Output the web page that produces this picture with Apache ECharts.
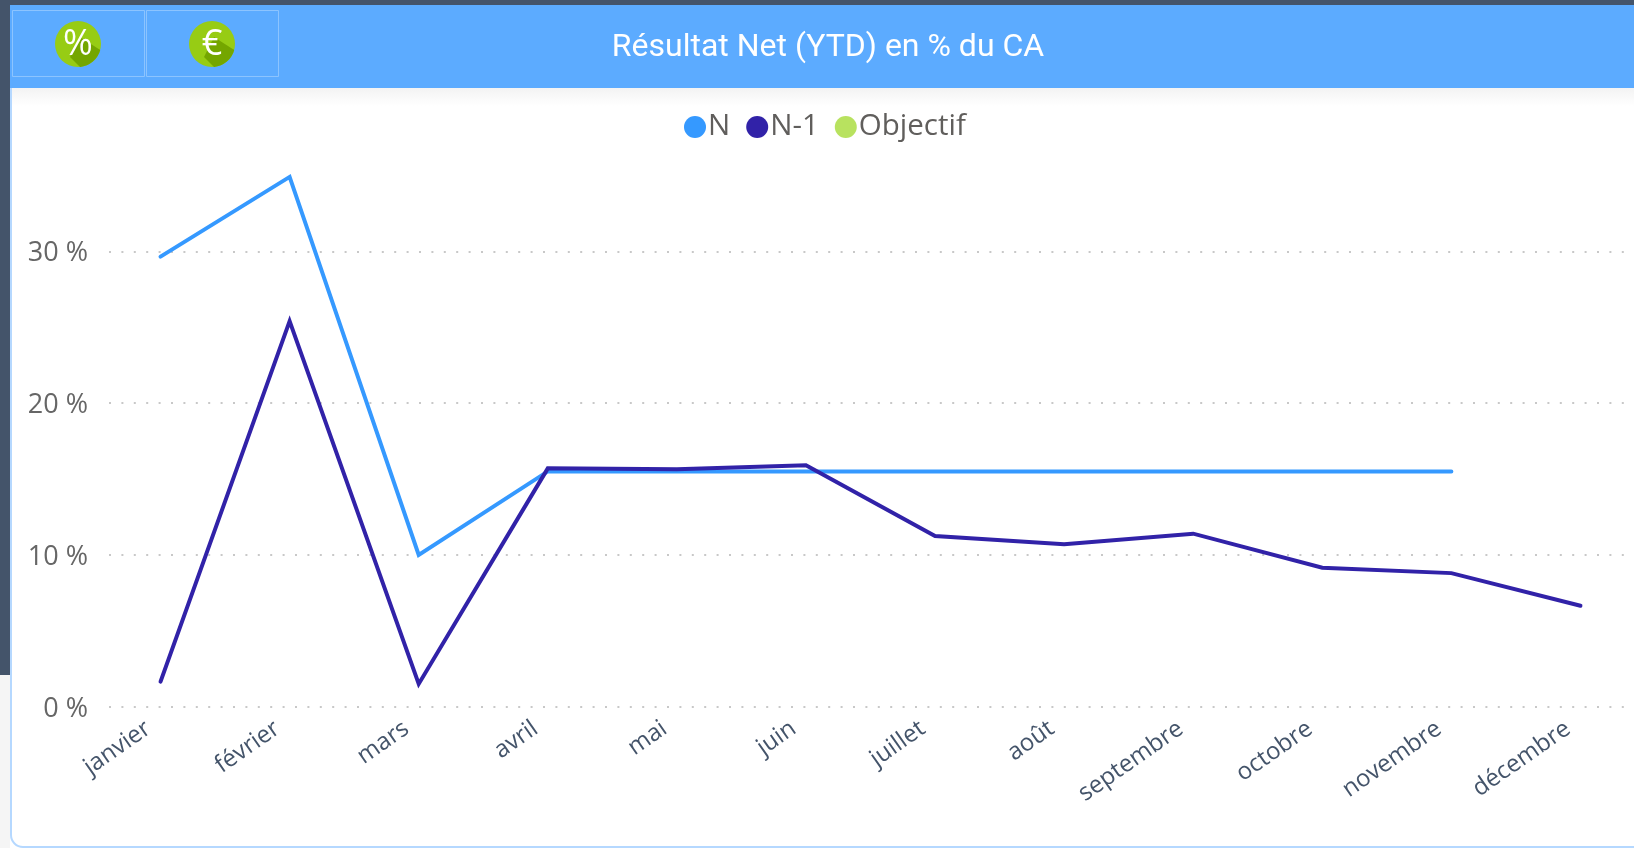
<!DOCTYPE html>
<html><head><meta charset="utf-8">
<style>html,body{margin:0;padding:0;background:#fff}#c{width:1634px;height:848px}</style>
<script src="https://cdn.jsdelivr.net/npm/echarts@6/dist/echarts.min.js"></script></head>
<body><div id="c"></div>
<script>
const categories = ['janvier','février','mars','avril','mai','juin','juillet','août','septembre','octobre','novembre','décembre'];
const serieN = [29.65,34.9,10.0,15.5,15.5,15.5,15.5,15.5,15.5,15.5,15.5,null];
const serieN1 = [1.65,25.4,1.5,15.7,15.65,15.9,11.25,10.7,11.4,9.15,8.8,6.65];
const serieObjectif = [];
const titleText = 'Résultat Net (YTD) en % du CA';

const chart = echarts.init(document.getElementById('c'), null, {renderer:'canvas'});
const blue='#5CABFF';
const shadowGreen='#74A600', green='#97CC14';
function icon(cx, cy, glyph, font){
  return {type:'group', z:10, silent:true, children:[
    {type:'circle', shape:{cx,cy,r:23}, style:{fill:green}},
    {type:'sector', shape:{cx,cy,r:23,r0:0,startAngle:Math.PI*15/180,endAngle:Math.PI*85/180}, style:{fill:shadowGreen}},
    {type:'polygon', shape:{points:[[cx+2,cy-7],[cx+22.2,cy+6],[cx+2,cy+22.9],[cx-8,cy+13]]}, style:{fill:shadowGreen}},
    {type:'text', x:cx, y:cy+1, style:{text:glyph, font, fill:'#fff', align:'center', verticalAlign:'middle'}}
  ]};
}
chart.setOption({
  animation:false,
  backgroundColor:'#fff',
  graphic:[
    {type:'rect', z:-5, shape:{x:0,y:0,width:10,height:675}, style:{fill:'#44546A'}},
    {type:'rect', z:-5, shape:{x:0,y:675,width:10,height:173}, style:{fill:'#F5F5F5'}},
    {type:'rect', z:-5, shape:{x:0,y:0,width:1634,height:5}, style:{fill:'#44546A'}},
    {type:'rect', z:-4, shape:{x:11,y:60,width:1640,height:787,r:12}, style:{fill:'#fff',stroke:'#B5D8FF',lineWidth:2}},
    {type:'rect', z:-3, shape:{x:12,y:88,width:1622,height:18},
      style:{fill:new echarts.graphic.LinearGradient(0,0,0,1,[{offset:0,color:'#F3F3F3'},{offset:1,color:'#FFFFFF'}])}},
    {type:'rect', z:-2, shape:{x:10,y:5,width:1624,height:83}, style:{fill:blue}},
    {type:'rect', z:-1, shape:{x:12.5,y:10.5,width:132,height:66}, style:{fill:'transparent',stroke:'#8CC4FF',lineWidth:1}},
    {type:'rect', z:-1, shape:{x:146.5,y:10.5,width:132,height:66}, style:{fill:'transparent',stroke:'#8CC4FF',lineWidth:1}},
    icon(78,44,'%','36px "Open Sans"'),
    icon(212,44,'€','36px "Open Sans"')
  ],
  title:{text:titleText, left:823, top:27, textAlign:'center',
    textStyle:{color:'#fff',fontFamily:'Roboto',fontSize:32,fontWeight:400,letterSpacing:1.3}},
  legend:{data:['N','N-1','Objectif'], left:679, top:107, icon:'circle', itemWidth:22, itemHeight:22, itemGap:16,
    textStyle:{color:'#605E5C',fontFamily:'Open Sans',fontSize:29.5,padding:[0,0,0,-3]}},
  grid:[
    {left:96, top:99.5, width:1549, height:607.2, outerBoundsMode:'none'},
    {left:109, top:99.5, width:1540, height:607.2, outerBoundsMode:'none'}
  ],
  xAxis:[
    {type:'category', gridIndex:0, data:categories, boundaryGap:true,
     axisLine:{show:false}, axisTick:{show:false},
     axisLabel:{rotate:35, interval:0, margin:11, padding:[0,15,0,0], color:'#44546A', fontFamily:'Open Sans', fontSize:24}},
    {type:'category', gridIndex:1, data:categories, show:false}
  ],
  yAxis:[
    {type:'value', gridIndex:0, min:0, max:40, interval:10, splitLine:{show:false},
     axisLine:{show:false}, axisTick:{show:false},
     axisLabel:{show:false}},
    {type:'value', gridIndex:1, min:0, max:40, interval:10,
     axisLine:{show:false}, axisTick:{show:false},
     splitLine:{show:true, showMaxLine:false, lineStyle:{color:'#C8C8C8',width:2,type:[2,10.4]}},
     axisLabel:{formatter:'{value} %', showMaxLabel:false, margin:21, verticalAlign:'top', padding:[-11,0,0,0], color:'#666', fontFamily:'Open Sans', fontSize:27}}
  ],
  series:[
    {name:'N', type:'line', data:serieN, xAxisIndex:0, yAxisIndex:0, showSymbol:false, symbol:'circle', clip:false,
     itemStyle:{color:'#3599FF'}, lineStyle:{color:'#3599FF',width:4,cap:'round',join:'miter'}, z:2},
    {name:'N-1', type:'line', data:serieN1, xAxisIndex:0, yAxisIndex:0, showSymbol:false, symbol:'circle', clip:false,
     itemStyle:{color:'#3122A8'}, lineStyle:{color:'#3122A8',width:4,cap:'round',join:'miter'}, z:3},
    {name:'Objectif', type:'line', data:serieObjectif, xAxisIndex:0, yAxisIndex:0, showSymbol:false, symbol:'circle',
     itemStyle:{color:'#B8E25F'}, lineStyle:{color:'#B8E25F',width:4}, z:1}
  ]
});
</script></body></html>
